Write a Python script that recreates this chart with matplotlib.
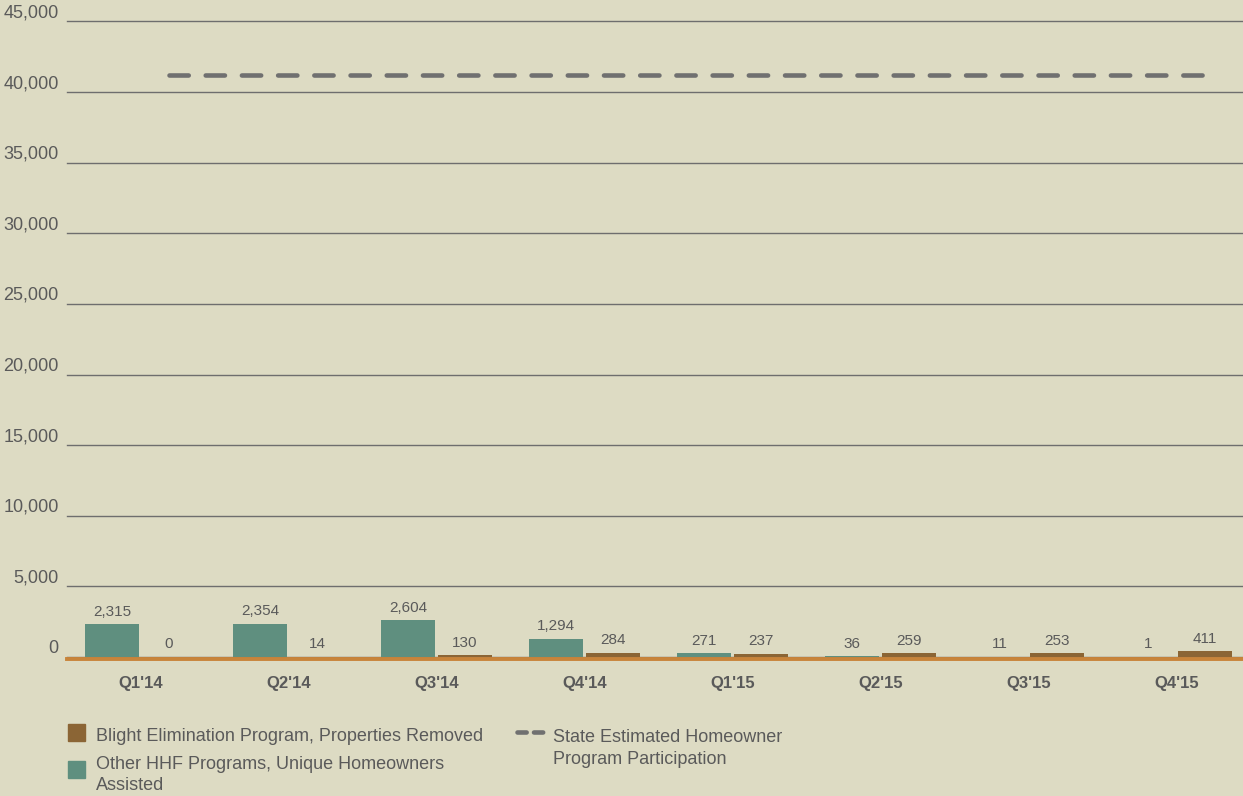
"""Quarterly HHF program participation chart."""

import matplotlib

matplotlib.use("Agg")

import matplotlib.pyplot as plt
import numpy as np
from matplotlib.lines import Line2D
from matplotlib.patches import Rectangle
from matplotlib.transforms import offset_copy

quarters = ["Q1'14", "Q2'14", "Q3'14", "Q4'14", "Q1'15", "Q2'15", "Q3'15", "Q4'15"]
other_hhf = [2315, 2354, 2604, 1294, 271, 36, 11, 1]
blight = [0, 14, 130, 284, 237, 259, 253, 411]
state_estimate = [41200] * len(quarters)
y_ticks = [0, 5000, 10000, 15000, 20000, 25000, 30000, 35000, 40000, 45000]

BG = "#dddbc3"
TEAL = "#5f8f7f"
BROWN = "#8b6535"
ORANGE = "#c8843a"
GRID = "#6e6e6e"
DASH = "#707070"
TEXT = "#5a5a5a"

W, H = 1243, 796

plt.rcParams["font.family"] = ["Liberation Sans Narrow", "Liberation Sans", "DejaVu Sans"]


def fig_xy(px, py):
    """Pixel position (from top left) to figure fraction."""
    return px / W, 1 - py / H


figure = plt.figure(figsize=(W / 100, H / 100), dpi=100, facecolor=BG)
axis = figure.add_axes([67 / W, 1 - 657 / H, 1 - 67 / W, (657 - 21.5) / H])
axis.set_facecolor(BG)

x = np.arange(len(quarters))
width = 0.365
offset = 0.193

teal_bars = axis.bar(x - offset, other_hhf, width, color=TEAL, zorder=3)
brown_bars = axis.bar(x + offset, blight, width, color=BROWN, zorder=3)

for bars, values in ((teal_bars, other_hhf), (brown_bars, blight)):
    for bar, value in zip(bars, values):
        axis.annotate(
            f"{value:,}",
            (bar.get_x() + bar.get_width() / 2, value),
            xytext=(0, 4),
            textcoords="offset points",
            ha="center",
            va="bottom",
            fontsize=11,
            color=TEXT,
        )

axis.plot(
    x + offset,
    state_estimate,
    color=DASH,
    lw=3.3,
    dashes=(4.2, 3.7),
    dash_capstyle="round",
    zorder=4,
)

# orange baseline sits just under the bars
base_transform = offset_copy(axis.get_yaxis_transform(), figure, y=-1.4, units="points")
axis.plot([0, 1], [0, 0], color=ORANGE, lw=2.8, transform=base_transform,
          clip_on=False, zorder=2)

axis.set_xlim(-0.497, len(quarters) - 0.551)
axis.set_ylim(0, 45000)
axis.set_yticks(y_ticks)
axis.set_yticklabels([f"{v:,}" for v in y_ticks], fontsize=13, color=TEXT)
for label in axis.get_yticklabels():
    label.set_verticalalignment("bottom")
axis.set_xticks(x)
axis.set_xticklabels(quarters, fontsize=12, fontweight="bold", color=TEXT)
axis.tick_params(axis="both", length=0)
axis.tick_params(axis="y", pad=6)
axis.tick_params(axis="x", pad=14)
axis.grid(axis="y", color=GRID, lw=1, zorder=0)
for gridline in axis.get_ygridlines():
    gridline.set_clip_on(False)
for spine in axis.spines.values():
    spine.set_visible(False)

# legend, laid out by hand so swatches line up with the first text line
legend_rows = [
    (BROWN, 724, 741, ["Blight Elimination Program, Properties Removed"]),
    (TEAL, 761, 769, ["Other HHF Programs, Unique Homeowners", "Assisted"]),
]
for color, top, baseline, lines in legend_rows:
    x0, y0 = fig_xy(68, top + 16.5)
    figure.add_artist(Rectangle((x0, y0), 17 / W, 16.5 / H, color=color,
                                transform=figure.transFigure))
    for i, line in enumerate(lines):
        tx, ty = fig_xy(96, baseline + i * 21.5)
        figure.text(tx, ty, line, fontsize=13, color=TEXT, va="baseline", ha="left")

lx0, ly = fig_xy(517, 732)
lx1, _ = fig_xy(546, 732)
figure.add_artist(Line2D([lx0, lx1], [ly, ly], color=DASH, lw=3.3,
                         dashes=(2.0, 1.6), dash_capstyle="round",
                         transform=figure.transFigure))
for i, line in enumerate(["State Estimated Homeowner", "Program Participation"]):
    tx, ty = fig_xy(553, 742 + i * 21.5)
    figure.text(tx, ty, line, fontsize=13, color=TEXT, va="baseline", ha="left")

figure.savefig("out.png", dpi=100, facecolor=BG)
plt.close(figure)
